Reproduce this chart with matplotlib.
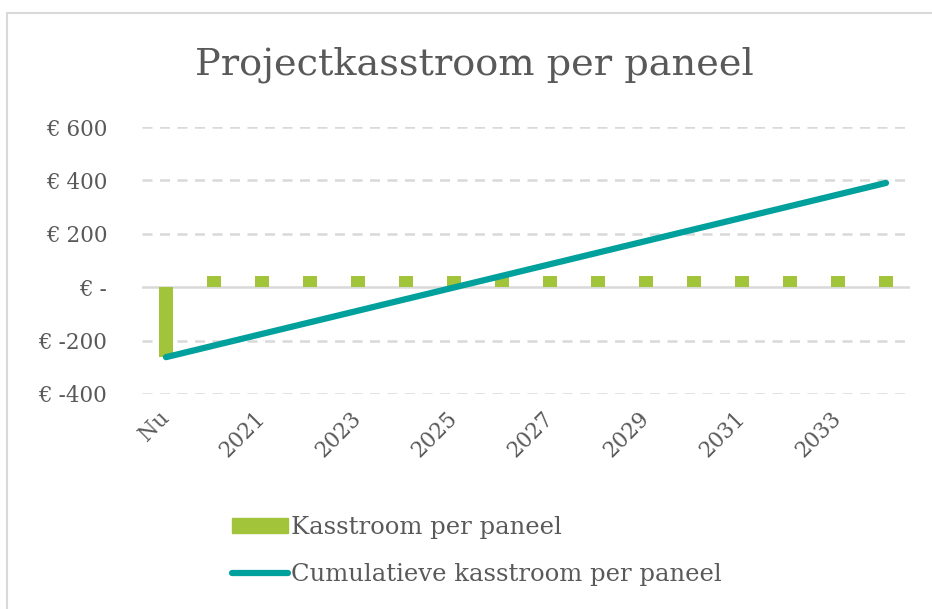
import numpy as np
from matplotlib import pyplot as plt
from matplotlib.lines import Line2D
from matplotlib.patches import Patch

# Data
labels = ['Nu', '2020', '2021', '2022', '2023', '2024', '2025', '2026', '2027',
          '2028', '2029', '2030', '2031', '2032', '2033', '2034']
kasstroom = [-262, 43.5, 43.5, 43.5, 43.5, 43.5, 43.5, 43.5, 43.5,
             43.5, 43.5, 43.5, 43.5, 43.5, 43.5, 43.5]
cumulatief = [-262, -218.5, -175, -131.5, -88, -44.5, -1, 42.5, 86,
              129.5, 173, 216.5, 260, 303.5, 347, 390.5]
yticks = [-400, -200, 0, 200, 400, 600]
ytick_labels = ['€ -400', '€ -200', '€ -', '€ 200', '€ 400', '€ 600']

green = '#a1c43b'
teal = '#00a19c'
grey_text = '#595959'
grid_col = '#d9d9d9'
font = 'DejaVu Serif'

fig = plt.figure(figsize=(9.32, 6.09), dpi=100)
ax = fig.add_axes([142/932, 1-394/609, 768/932, 267/609])

x = np.arange(len(labels))
ax.bar(x, kasstroom, width=0.29, color=green, zorder=3)
ax.plot(x, cumulatief, color=teal, linewidth=4.5, solid_capstyle='round', zorder=4)

ax.set_xlim(-0.5, len(labels) - 0.5)
ax.set_ylim(-400, 600)
ax.set_yticks(yticks)
ax.set_yticklabels(ytick_labels, fontsize=15.5, color=grey_text, family=font)
for y in yticks:
    if y == 0:
        ax.axhline(y, color=grid_col, linewidth=1.8, zorder=2)
    else:
        ax.axhline(y, color=grid_col, linewidth=1.8, linestyle=(0, (4, 3)), zorder=1)

ax.set_xticks(x[::2])
ax.set_xticklabels(labels[::2], fontsize=15.5, color=grey_text, family=font,
                   rotation=45, ha='right', va='center', rotation_mode='anchor')
ax.tick_params(length=0)
ax.tick_params(axis='y', pad=25)
ax.tick_params(axis='x', pad=15)
for s in ax.spines.values():
    s.set_visible(False)

fig.text(474/932, 1-65/609, 'Projectkasstroom per paneel', fontsize=27.5,
         color=grey_text, family=font, ha='center', va='center')

# outer chart border
fig.add_artist(Line2D([7/932, 1], [1-13/609, 1-13/609], color=grid_col, linewidth=1.5))
fig.add_artist(Line2D([7/932, 7/932], [0, 1-13/609], color=grid_col, linewidth=1.5))

handles = [Patch(color=green), Line2D([], [], color=teal, linewidth=4.5, solid_capstyle='round')]
fig.legend(handles, ['Kasstroom per paneel', 'Cumulatieve kasstroom per paneel'],
           loc='upper left', bbox_to_anchor=(210/932, 1-494/609), frameon=False,
           prop={'family': font, 'size': 17.5}, labelcolor=grey_text,
           handlelength=2.3, handleheight=0.6, handletextpad=0.12, labelspacing=1.0)

fig.savefig('out.png', dpi=100)
